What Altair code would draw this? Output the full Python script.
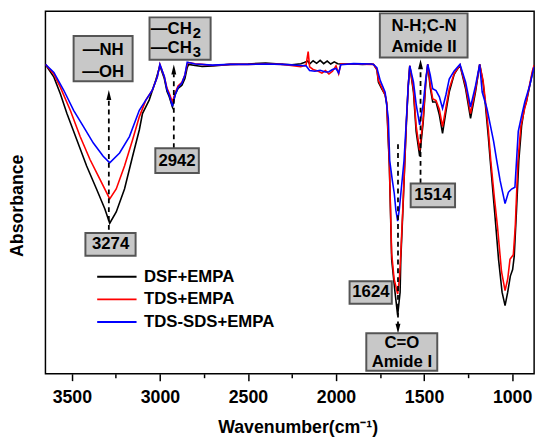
import altair as alt
import pandas as pd

FONT = "Liberation Sans"

series_names = ["DSF+EMPA", "TDS+EMPA", "TDS-SDS+EMPA"]
series_colors = ["#000000", "#ff0000", "#0000ff"]

# ---- DSF+EMPA (black) ----
black_wn = [3650, 3602, 3565, 3528, 3472, 3416, 3360, 3313, 3285, 3248, 3201, 3155, 3117, 3099, 3061, 3024,
            3000, 2975, 2960, 2947, 2929, 2914, 2897, 2875, 2858, 2845, 2837, 2800, 2760, 2700, 2600, 2500,
            2400, 2300, 2250, 2200, 2180, 2160, 2150, 2130, 2110, 2090, 2070, 2050, 2030, 2010, 1990, 1973,
            1900, 1850, 1800, 1787, 1768, 1759, 1740, 1721, 1712, 1705, 1697, 1684, 1665, 1650, 1636, 1632,
            1620, 1609, 1600, 1590, 1581, 1560, 1545, 1525, 1505, 1490, 1479, 1465, 1451, 1432, 1413, 1395,
            1376, 1357, 1329, 1296, 1264, 1236, 1208, 1184, 1165, 1152, 1135, 1124, 1100, 1077, 1057, 1040,
            1025, 1010, 997, 988, 975, 962, 946, 930, 919, 900, 885, 875]
black_ab = [84.9, 81.4, 76.8, 71.4, 64.2, 57.0, 50.7, 45.3, 41.3, 44.4, 50.7, 59.7, 66.9, 71.4, 75.1, 80.5,
            84.5, 81.0, 77.5, 76.0, 73.2, 76.5, 78.3, 79.2, 81.0, 84.0, 84.9, 84.6, 84.3, 84.5, 84.9, 85.0,
            85.3, 84.9, 84.8, 85.1, 85.4, 85.8, 85.0, 85.9, 85.2, 86.0, 85.1, 85.8, 85.0, 85.6, 85.1, 85.0,
            85.0, 84.9, 85.0, 84.9, 83.5, 80.0, 78.2, 76.5, 74.0, 66.0, 57.0, 31.4, 22.4, 16.0, 22.4, 31.4,
            45.0, 58.4, 69.0, 78.6, 84.5, 77.3, 66.5, 59.7, 69.0, 80.0, 84.9, 78.6, 74.6, 74.6, 71.0, 66.0,
            71.9, 77.3, 82.2, 84.7, 78.2, 70.1, 77.3, 84.9, 80.0, 74.0, 65.0, 58.4, 44.9, 31.4, 22.4, 18.7,
            22.4, 26.8, 28.6, 32.2, 44.9, 58.4, 68.0, 73.0, 74.6, 79.0, 82.5, 84.5]

# ---- TDS+EMPA (red) ----
red_wn = [3650, 3602, 3565, 3509, 3453, 3397, 3341, 3285, 3248, 3201, 3155, 3117, 3080, 3043, 3015,
          3000, 2975, 2960, 2947, 2929, 2914, 2897, 2875, 2858, 2845, 2837, 2800, 2760, 2700, 2600, 2500,
          2400, 2300, 2200, 2170, 2158, 2150, 2130, 2100, 2080, 2060, 2040, 2020, 2000, 1985, 1973,
          1900, 1800, 1787, 1768, 1759, 1740, 1721, 1712, 1705, 1697, 1684, 1670, 1650, 1640, 1632,
          1620, 1609, 1600, 1590, 1581, 1560, 1545, 1525, 1505, 1490, 1479, 1465, 1451, 1432, 1413, 1395,
          1376, 1357, 1329, 1296, 1264, 1236, 1208, 1184, 1165, 1152, 1135, 1121, 1100, 1083, 1060, 1040,
          1025, 1012, 993, 982, 967, 950, 930, 919, 900, 885, 875]
red_ab = [84.9, 82.2, 78.6, 72.3, 65.1, 58.8, 53.4, 48.0, 50.7, 57.0, 64.2, 70.5, 75.1, 77.8, 81.4,
          84.9, 81.5, 78.4, 77.0, 74.6, 77.0, 79.0, 80.0, 82.0, 85.0, 85.4, 85.1, 84.9, 84.6, 84.9, 84.9,
          85.0, 84.9, 84.3, 84.7, 88.4, 84.2, 83.5, 83.0, 82.5, 83.2, 82.3, 83.0, 84.5, 82.3, 85.0,
          85.0, 84.9, 84.9, 83.5, 80.5, 78.5, 76.5, 74.5, 67.0, 57.5, 33.0, 26.0, 21.9, 26.0, 33.0,
          46.0, 59.0, 69.5, 79.0, 84.5, 78.0, 68.0, 61.3, 70.0, 80.5, 84.9, 79.5, 75.5, 75.0, 72.5, 67.8,
          73.0, 78.2, 82.4, 84.7, 79.0, 71.4, 78.0, 84.9, 80.5, 75.0, 67.0, 58.4, 48.0, 40.4, 28.0, 22.8,
          26.0, 31.4, 32.7, 40.4, 58.4, 68.0, 72.5, 74.6, 79.5, 83.0, 84.7]

# ---- TDS-SDS+EMPA (blue) ----
blue_wn = [3650, 3602, 3546, 3490, 3434, 3378, 3322, 3285, 3229, 3173, 3117, 3080, 3043, 3015,
           3000, 2975, 2960, 2947, 2929, 2914, 2897, 2875, 2858, 2845, 2837, 2800, 2700, 2600, 2500,
           2400, 2300, 2200, 2170, 2150, 2120, 2090, 2060, 2040, 2020, 2000, 1985, 1973,
           1900, 1800, 1787, 1768, 1749, 1721, 1703, 1695, 1680, 1669, 1660, 1650, 1641, 1632,
           1614, 1600, 1590, 1581, 1560, 1545, 1525, 1505, 1490, 1479, 1465, 1451, 1432, 1413, 1395,
           1376, 1357, 1329, 1296, 1264, 1236, 1208, 1184, 1170, 1143, 1124, 1105, 1087, 1068, 1040,
           1021, 1003, 984, 975, 965, 945, 928, 900, 875]
blue_ab = [84.9, 82.7, 77.8, 72.3, 67.8, 63.3, 59.7, 57.9, 60.6, 65.1, 72.3, 75.1, 77.8, 81.4,
           84.9, 81.6, 78.0, 76.5, 73.4, 76.5, 78.6, 79.8, 82.0, 85.5, 85.4, 85.0, 84.7, 84.9, 84.9,
           85.0, 84.9, 84.6, 84.5, 83.2, 83.0, 83.3, 82.8, 82.9, 83.5, 83.8, 82.5, 84.8,
           85.1, 85.0, 84.9, 84.0, 80.5, 77.3, 70.1, 58.5, 53.0, 49.4, 44.9, 41.9, 44.9, 49.4,
           58.4, 70.0, 79.0, 84.5, 80.0, 74.0, 68.3, 74.0, 81.0, 84.9, 82.0, 78.2, 77.7, 76.0, 72.8,
           76.5, 80.9, 83.1, 84.9, 80.0, 73.2, 79.0, 84.9, 77.3, 72.8, 68.3, 63.8, 58.4, 53.0, 46.7,
           49.8, 50.7, 51.2, 58.4, 66.5, 71.0, 74.6, 79.1, 84.2]

rows = []
for name, wns, abs_ in zip(series_names, [black_wn, red_wn, blue_wn], [black_ab, red_ab, blue_ab]):
    for i, (w, a) in enumerate(zip(wns, abs_)):
        rows.append({"series": name, "wn": w, "ab": a, "i": i})
spectra = pd.DataFrame(rows)

# ---- annotation boxes (wavenumber / absorbance units) ----
box_wn1 = [3490, 3059, 3026, 3423, 1576, 1923, 1751, 1828]
box_wn2 = [3155, 2712, 2779, 3138, 1324, 1683, 1253, 1425]
box_ab1 = [92.7, 97.8, 61.9, 38.6, 52.2, 25.4, 98.9, 11.1]
box_ab2 = [80.3, 86.2, 55.1, 32.4, 45.7, 19.2, 86.8, 0.8]
boxes = pd.DataFrame({"x1": box_wn1, "x2": box_wn2, "y1": box_ab1, "y2": box_ab2})

# centred labels
lab_text = ["\u2014NH", "\u2014OH", "2942", "3274", "1514", "1624", "N-H;C-N", "Amide II", "C=O", "Amide I"]
lab_wn = [3322, 3322, 2903, 3280, 1450, 1802, 1500, 1500, 1626, 1626]
lab_ab = [88.9, 82.7, 58.5, 35.5, 48.9, 22.3, 95.3, 89.6, 8.4, 3.2]
labels = pd.DataFrame({"t": lab_text, "x": lab_wn, "y": lab_ab})

# CH2 / CH3 with subscripts
ch_text = ["\u2014CH", "\u2014CH"]
ch_wn = [2819, 2819]
ch_ab = [94.6, 89.5]
sub_text = ["2", "3"]
sub_ab = [93.5, 88.4]
ch = pd.DataFrame({"t": ch_text, "x": ch_wn, "y": ch_ab})
subs = pd.DataFrame({"t": sub_text, "x": ch_wn, "y": sub_ab})

# dashed arrows
arr_wn = [3290, 2921, 1520, 1648]
arr_from = [39.5, 61.9, 52.2, 63.0]
arr_to = [75.1, 82.2, 83.8, 13.5]
arrows = pd.DataFrame({"x": arr_wn, "y1": arr_from, "y2": arr_to})
head_wn = [3290, 2921, 1520]
head_ab = [76.5, 83.5, 84.9]
heads_up = pd.DataFrame({"x": head_wn, "y": head_ab})
heads_down = pd.DataFrame({"x": [1648], "y": [12.4]})

xscale = alt.Scale(domain=[875, 3650], reverse=True, nice=False, zero=False)
yscale = alt.Scale(domain=[0, 99.5], nice=False, zero=False)

tick_vals = list(range(1000, 3501, 250))

lines = alt.Chart(spectra).mark_line(strokeWidth=1.6, clip=True).encode(
    x=alt.X("wn:Q", scale=xscale,
            axis=alt.Axis(values=tick_vals, format="d",
                          labelExpr="datum.value % 500 === 0 ? datum.label : ''",
                          tickSize={"condition": {"test": "datum.value % 500 === 0", "value": 7}, "value": 4},
                          tickColor="#000", tickWidth=1.5, domain=False, grid=False,
                          labelFont=FONT, labelFontSize=18, labelFontWeight="bold", labelColor="#000",
                          labelPadding=8, labelFlush=False,
                          title="Wavenumber(cm\u207b\u00b9)", titleFont=FONT, titleFontSize=18,
                          titleFontWeight="bold", titleColor="#000", titlePadding=13, titleX=256)),
    y=alt.Y("ab:Q", scale=yscale,
            axis=alt.Axis(labels=False, ticks=False, domain=False, grid=False,
                          title="Absorbance", titleFont=FONT, titleFontSize=18, titleFontWeight="bold",
                          titleColor="#000", titlePadding=19, titleY=197)),
    color=alt.Color("series:N", scale=alt.Scale(domain=series_names, range=series_colors),
                    legend=alt.Legend(title=None, orient="none", legendX=63, legendY=260,
                                      symbolType="M-2.35,0H2.35", symbolSize=289, symbolStrokeWidth=2,
                                      labelFont=FONT, labelFontSize=17, labelFontWeight="bold",
                                      labelColor="#000", labelOffset=18, rowPadding=5, padding=0)),
    order="i:Q",
)

rects = alt.Chart(boxes).mark_rect(fill="#c8c8c8", stroke="#555555", strokeWidth=2).encode(
    x="x1:Q", x2="x2:Q", y="y1:Q", y2="y2:Q")

texts = alt.Chart(labels).mark_text(font=FONT, fontSize=17, fontWeight="bold", color="#000",
                                    align="center", baseline="middle").encode(
    x="x:Q", y="y:Q", text="t:N")

ch_txt = alt.Chart(ch).mark_text(font=FONT, fontSize=17, fontWeight="bold", color="#000",
                                 align="right", baseline="middle").encode(x="x:Q", y="y:Q", text="t:N")
sub_txt = alt.Chart(subs).mark_text(font=FONT, fontSize=15, fontWeight="bold", color="#000",
                                    align="left", baseline="middle", dx=1).encode(x="x:Q", y="y:Q", text="t:N")

dash = alt.Chart(arrows).mark_rule(color="#000", strokeWidth=1.8, strokeDash=[5, 4]).encode(
    x="x:Q", y="y1:Q", y2="y2:Q")

up = alt.Chart(heads_up).mark_point(shape="M0,-1L-0.5,1L0.5,1Z", filled=True, size=100,
                                    color="#000", opacity=1).encode(x="x:Q", y="y:Q")
down = alt.Chart(heads_down).mark_point(shape="M0,1L-0.5,-1L0.5,-1Z", filled=True, size=100,
                                        color="#000", opacity=1).encode(x="x:Q", y="y:Q")

chart = alt.layer(lines, dash, up, down, rects, texts, ch_txt, sub_txt).properties(
    width=496, height=368,
    autosize=alt.AutoSizeParams(type="none"),
    padding={"left": 38, "top": 0, "right": 8, "bottom": 64},
    background="#ffffff",
).configure_view(stroke="#000", strokeWidth=1.5)

chart.save("out.html", embed_options={"renderer": "svg", "actions": False})
